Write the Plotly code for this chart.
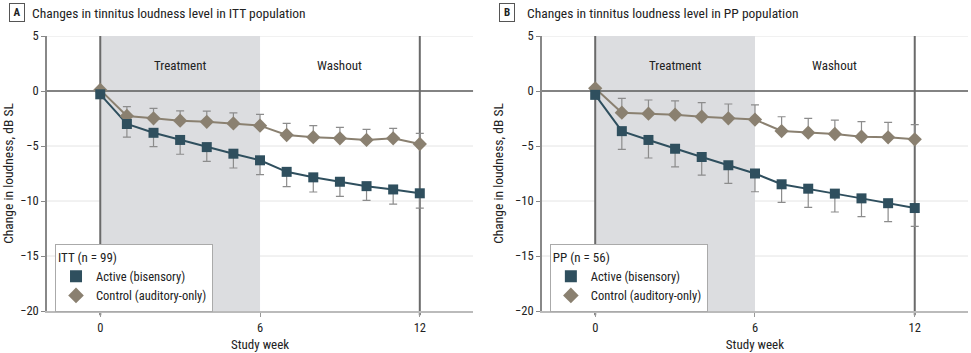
import plotly.graph_objects as go
from plotly.subplots import make_subplots

weeks = list(range(0, 13))

# Panel A (ITT)
itt_active = [-0.3, -3.0, -3.8, -4.45, -5.1, -5.7, -6.3, -7.35, -7.85, -8.25, -8.65, -8.95, -9.3]
itt_active_err = [0, 1.2, 1.25, 1.3, 1.3, 1.3, 1.3, 1.35, 1.33, 1.33, 1.3, 1.33, 1.35]
itt_control = [0.1, -2.27, -2.48, -2.7, -2.8, -2.95, -3.15, -4.0, -4.2, -4.3, -4.45, -4.3, -4.82]
itt_control_err = [0, 0.85, 0.9, 0.9, 0.97, 0.97, 1.03, 1.06, 1.06, 1.0, 0.97, 0.91, 0.97]

# Panel B (PP)
pp_active = [-0.35, -3.65, -4.45, -5.25, -6.0, -6.75, -7.5, -8.48, -8.88, -9.33, -9.76, -10.2, -10.64]
pp_active_err = [0, 1.66, 1.64, 1.64, 1.64, 1.64, 1.66, 1.64, 1.7, 1.67, 1.66, 1.67, 1.66]
pp_control = [0.24, -1.97, -2.06, -2.15, -2.33, -2.48, -2.6, -3.64, -3.79, -3.91, -4.15, -4.21, -4.39]
pp_control_err = [0, 1.3, 1.24, 1.25, 1.27, 1.3, 1.33, 1.3, 1.3, 1.27, 1.36, 1.36, 1.33]

panel_titles = ["Changes in tinnitus loudness level in ITT population",
                "Changes in tinnitus loudness level in PP population"]
panel_letters = ["A", "B"]
legend_titles = ["ITT (n = 99)", "PP (n = 56)"]
series_names = ["Active (bisensory)", "Control (auditory-only)"]
x_ticks = [0, 6, 12]
y_ticks = [5, 0, -5, -10, -15, -20]
grid_vals = [5, -5, -10, -15]

ACTIVE = "#2f4f5e"
CONTROL = "#8a8070"
ERR = "#8c8c8c"
FONT = "Liberation Sans Narrow, Roboto Condensed, Arial Narrow, Roboto, sans-serif"

fig = make_subplots(rows=1, cols=2, horizontal_spacing=0.0748)

data = [(itt_active, itt_active_err, itt_control, itt_control_err),
        (pp_active, pp_active_err, pp_control, pp_control_err)]

for i, (a, ae, c, ce) in enumerate(data):
    col = i + 1
    leg = "legend" if i == 0 else "legend2"
    # connecting lines (no legend)
    fig.add_trace(go.Scatter(x=weeks, y=c, mode="lines", line=dict(color=CONTROL, width=2),
                             showlegend=False, hoverinfo="skip"), row=1, col=col)
    fig.add_trace(go.Scatter(x=weeks, y=a, mode="lines", line=dict(color=ACTIVE, width=2),
                             showlegend=False, hoverinfo="skip"), row=1, col=col)
    # markers with error bars (legend)
    fig.add_trace(go.Scatter(
        x=weeks, y=c, name=series_names[1], mode="markers",
        marker=dict(symbol="diamond", size=11, color=CONTROL),
        error_y=dict(type="data", array=ce, arrayminus=[0]*len(ce), symmetric=False,
                     color=ERR, thickness=1.2, width=4),
        legend=leg, legendrank=2), row=1, col=col)
    fig.add_trace(go.Scatter(
        x=weeks, y=a, name=series_names[0], mode="markers",
        marker=dict(symbol="square", size=10, color=ACTIVE),
        error_y=dict(type="data", array=[0]*len(ae), arrayminus=ae, symmetric=False,
                     color=ERR, thickness=1.2, width=4),
        legend=leg, legendrank=1), row=1, col=col)

for i in range(2):
    xr = "x" if i == 0 else "x2"
    yr = "y" if i == 0 else "y2"
    # light gridlines
    for gv in grid_vals:
        fig.add_shape(type="line", xref=xr + " domain", yref=yr, x0=0, x1=1, y0=gv, y1=gv,
                      line=dict(color="#e4e4e4", width=1), layer="below")
    # treatment shading
    fig.add_shape(type="rect", xref=xr, yref=yr + " domain", x0=0, x1=6, y0=0, y1=1,
                  fillcolor="#dcdde0", line_width=0, layer="below")
    # zero line
    fig.add_shape(type="line", xref=xr + " domain", yref=yr, x0=0, x1=1, y0=0, y1=0,
                  line=dict(color="#5a5a5a", width=1.5), layer="below")
    # vertical lines at 0 and 12
    for xv in (0, 12):
        fig.add_shape(type="line", xref=xr, yref=yr + " domain", x0=xv, x1=xv, y0=-0.015, y1=1,
                      line=dict(color="#6a6a6a", width=2), layer="below")
    fig.add_annotation(x=3, y=2.3, xref=xr, yref=yr, text="Treatment", showarrow=False,
                       font=dict(size=13, color="#222"))
    fig.add_annotation(x=9, y=2.3, xref=xr, yref=yr, text="Washout", showarrow=False,
                       font=dict(size=13, color="#222"))

# panel titles (paper coords span the plotting area: 45..968 px, 36..311 px)
for i, (lx, tx) in enumerate([(-0.0325, -0.0184), (0.4995, 0.5195)]):
    fig.add_annotation(x=lx, y=1.084, xref="paper", yref="paper", text="<b>" + panel_letters[i] + "</b>",
                       showarrow=False, xanchor="center", yanchor="middle",
                       bordercolor="#555", borderwidth=1, borderpad=2, width=10,
                       font=dict(size=11, color="#222"))
    fig.add_annotation(x=tx, y=1.084, xref="paper", yref="paper", text=panel_titles[i],
                       showarrow=False, xanchor="left", yanchor="middle",
                       font=dict(size=13.5, color="#222"))

fig.update_xaxes(range=[-2, 14], tickvals=x_ticks, ticks="outside", ticklen=4, tickcolor="#999",
                 showgrid=False, zeroline=False, showline=True, linecolor="#bbbbbb", linewidth=1.5,
                 title=dict(text="Study week", font=dict(size=13, color="#222"), standoff=6),
                 tickfont=dict(size=12.5, color="#222"))
fig.update_yaxes(range=[-20, 5], tickvals=y_ticks, ticks="outside", ticklen=4, tickcolor="#888",
                 showgrid=False, zeroline=False,
                 showline=True, linecolor="#888", linewidth=1.5,
                 title=dict(text="Change in loudness, dB SL", font=dict(size=13.5, color="#222"), standoff=8),
                 tickfont=dict(size=12.5, color="#222"))

legend_common = dict(xanchor="left", yanchor="top", xref="paper", yref="paper",
                     bgcolor="white", bordercolor="#aaaaaa", borderwidth=1,
                     font=dict(size=12.5), itemsizing="constant", tracegroupgap=0, itemwidth=30)
fig.update_layout(
    width=971, height=353,
    margin=dict(l=45, r=3, t=36, b=42),
    paper_bgcolor="white", plot_bgcolor="white",
    font=dict(family=FONT, color="#222"),
    legend=dict(title=dict(text=legend_titles[0], font=dict(size=13)), x=0.0087, y=0.245, **legend_common),
    legend2=dict(title=dict(text=legend_titles[1], font=dict(size=13)), x=0.546, y=0.245, **legend_common),
)

fig.write_html("out.html")
